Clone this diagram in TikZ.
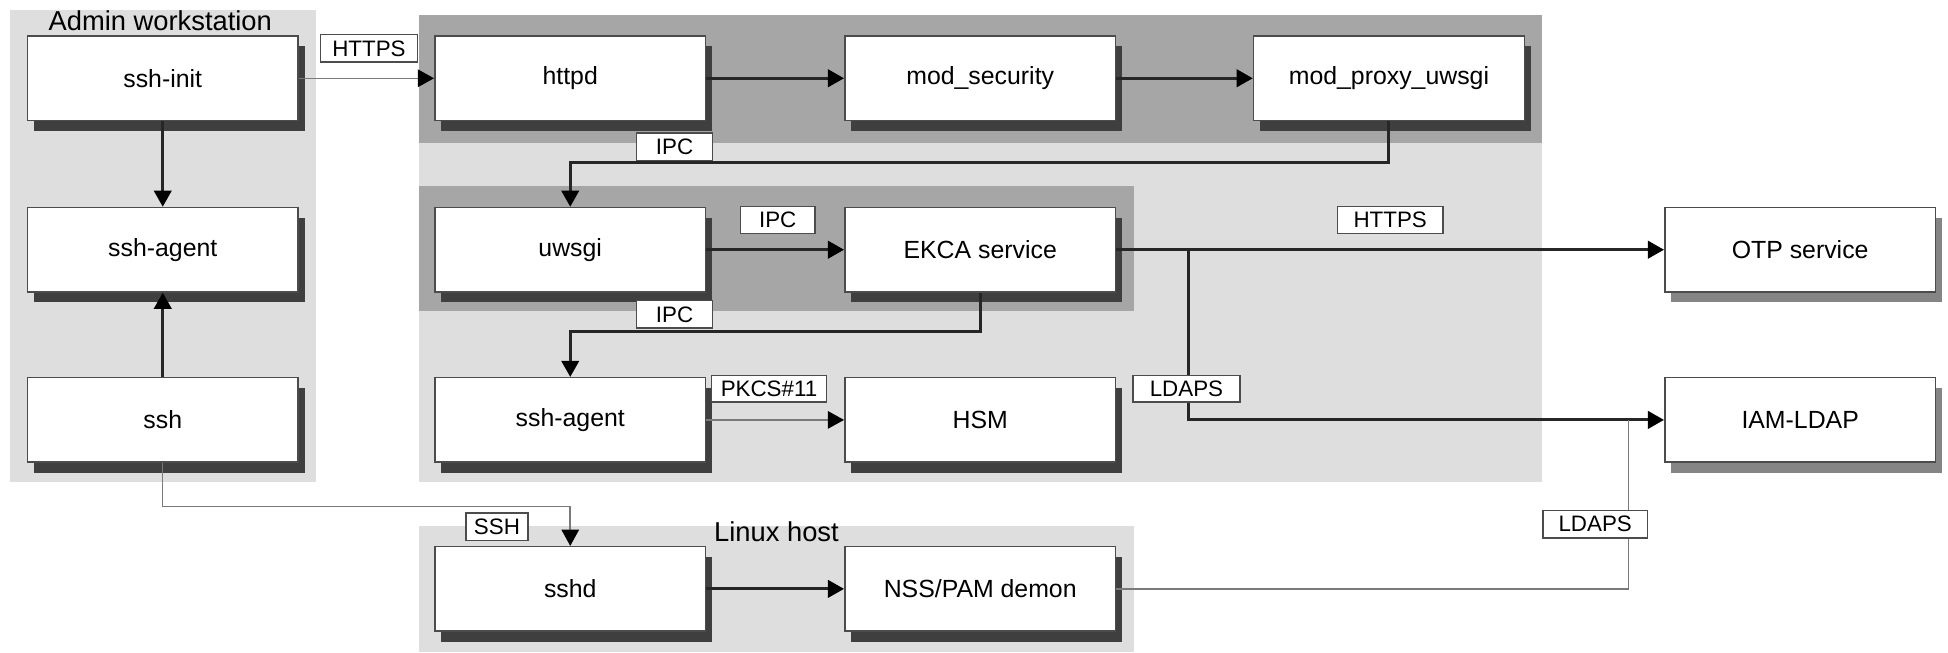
\documentclass[tikz,border=0pt]{standalone}
\usepackage{fontspec}
\setmainfont{Liberation Sans}
\usetikzlibrary{arrows.meta,shadows}
\definecolor{lg}{HTML}{DEDEDE}
\definecolor{dg}{HTML}{A6A6A6}
\definecolor{shd}{HTML}{3F3F3F}
\definecolor{shl}{HTML}{858585}
\definecolor{ln}{HTML}{7A7A7A}
\begin{document}
\begin{tikzpicture}[x=0.5pt,y=-0.5pt,
  box/.style={draw=black!70, line width=0.6pt, fill=white, minimum width=109pt,
    minimum height=34pt, inner sep=0pt, font=\fontsize{10}{12}\selectfont,
    drop shadow={shadow xshift=2.6pt, shadow yshift=-4.2pt, fill=#1, opacity=1}},
  box/.default=shd,
  lab/.style={draw=black!70, line width=0.5pt, fill=white, inner sep=0pt,
    minimum height=11pt, font=\fontsize{9}{10}\selectfont},
  grp/.style={inner sep=0pt, font=\fontsize{11}{13}\selectfont},
  arr/.style={line width=1.2pt, draw=black!85, -{Triangle[length=6.5pt,width=7pt,color=black]}},
  tarr/.style={line width=0.6pt, draw=ln, -{Triangle[length=6.5pt,width=7pt,color=black]}},
  tline/.style={line width=0.6pt, draw=ln}
]
\useasboundingbox (0,0) rectangle (1568,525);
% regions
\fill[lg] (8,8) rectangle (254,388);
\fill[lg] (337,12) rectangle (1241,388);
\fill[dg] (337,12) rectangle (1241,115);
\fill[dg] (337,150) rectangle (913,250);
\fill[lg] (337,423) rectangle (913,525);
\node[grp] (adm) at (129,17) {Admin workstation};
\node[grp] (lh) at (625,428) {Linux host};
% nodes
\node[box] (sshinit) at (131,63) {ssh-init};
\node[box] (agentl) at (131,201) {ssh-agent};
\node[box] (ssh) at (131,338) {ssh};
\node[box] (httpd) at (459,63) {httpd};
\node[box] (modsec) at (789,63) {mod\_security};
\node[box] (mpu) at (1118,63) {mod\_proxy\_uwsgi};
\node[box] (uwsgi) at (459,201) {uwsgi};
\node[box] (ekca) at (789,201) {EKCA service};
\node[box] (agentr) at (459,338) {ssh-agent};
\node[box] (hsm) at (789,338) {HSM};
\node[box=shl] (otp) at (1449,201) {OTP service};
\node[box=shl] (iam) at (1449,338) {IAM-LDAP};
\node[box] (sshd) at (459,474) {sshd};
\node[box] (nss) at (789,474) {NSS/PAM demon};
% connectors
\draw[tarr] (sshinit.east) -- (httpd.west);
\draw[arr] (httpd.east) -- (modsec.west);
\draw[arr] (modsec.east) -- (mpu.west);
\draw[arr] (mpu.south) -- ++(0,33) -| (uwsgi.north);
\draw[arr] (sshinit.south) -- (agentl.north);
\draw[arr] (ssh.north) -- (agentl.south);
\draw[arr] (uwsgi.east) -- (ekca.west);
\draw[arr] (ekca.south) -- ++(0,31) -| (agentr.north);
\draw[arr] (ekca.east) -- (otp.west);
\coordinate (br) at (957,201);
\draw[arr] (br) |- (iam.west);
\draw[tarr] (agentr.east) -- (hsm.west);
\draw[tarr] (ssh.south) -- ++(0,35) -| (sshd.north);
\draw[arr] (sshd.east) -- (nss.west);
\coordinate (jn) at (1311,338);
\draw[tline] (nss.east) -| (jn);
% labels
\node[lab, minimum width=39pt] (l1) at (297,39) {HTTPS};
\node[lab, minimum width=30.5pt] (l2) at (543,118) {IPC};
\node[lab, minimum width=30pt] (l3) at (626,177) {IPC};
\node[lab, minimum width=30.5pt] (l4) at (543,253) {IPC};
\node[lab, minimum width=42.5pt] (l5) at (1119,177) {HTTPS};
\node[lab, minimum width=46pt, minimum height=10.5pt] (l6) at (619,313) {PKCS\#11};
\node[lab, minimum width=43pt, minimum height=10.5pt] (l7) at (955,313) {LDAPS};
\node[lab, minimum width=25pt] (l8) at (400,424) {SSH};
\node[lab, minimum width=42pt] (l9) at (1284,422) {LDAPS};
\end{tikzpicture}
\end{document}
